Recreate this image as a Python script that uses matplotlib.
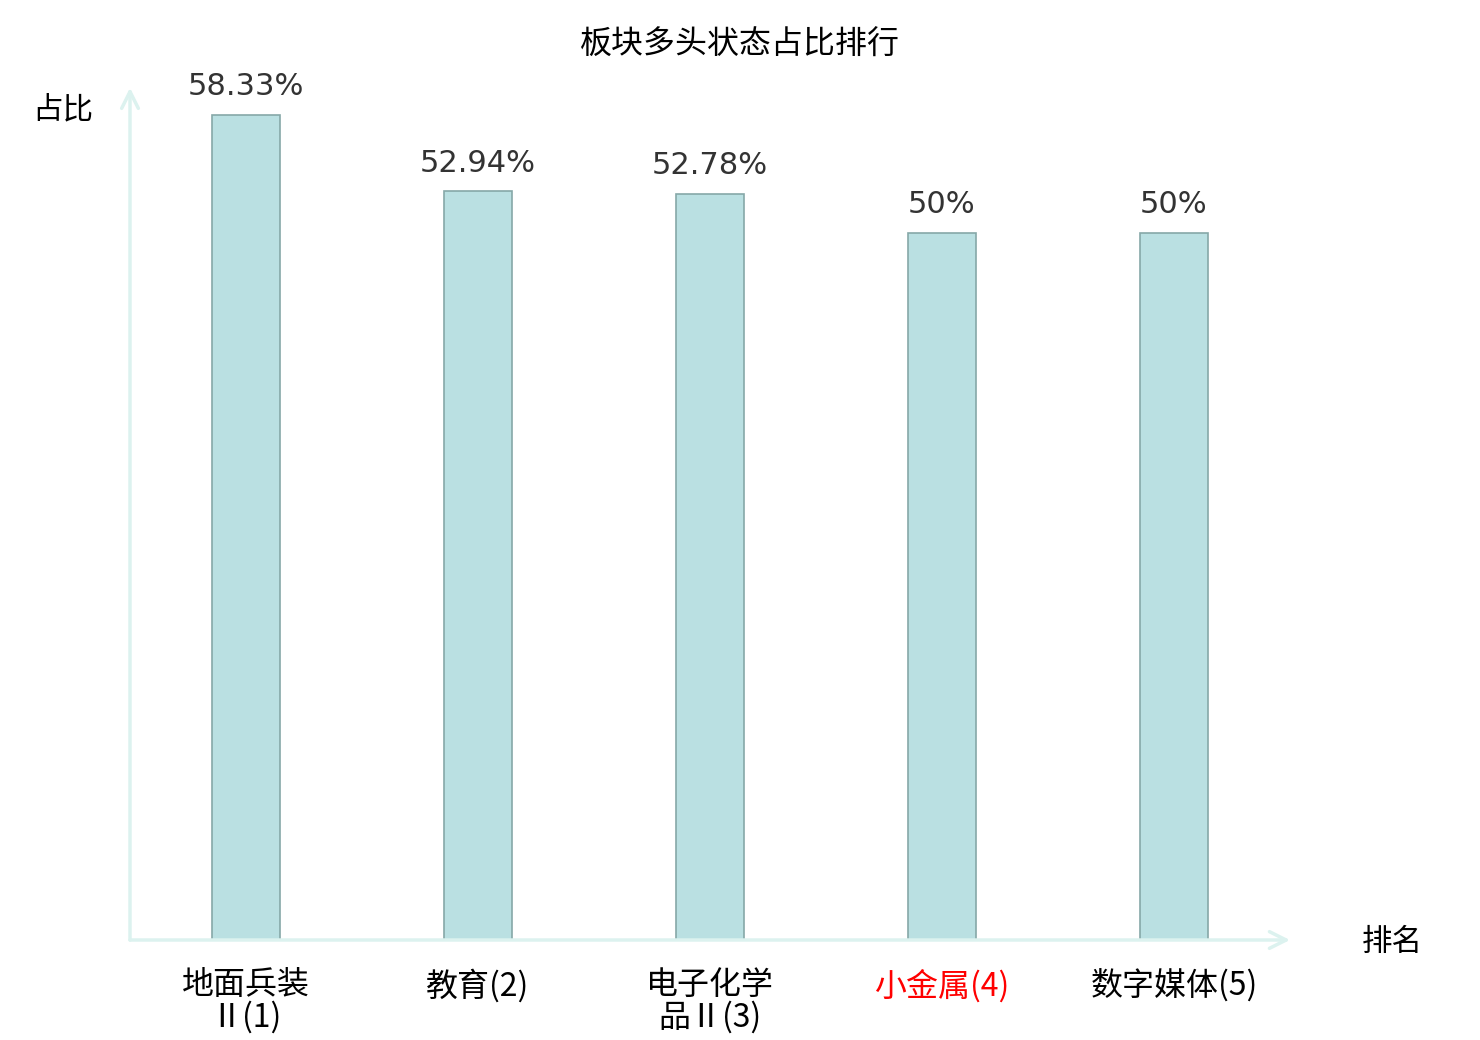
import matplotlib
matplotlib.use("Agg")
import matplotlib.pyplot as plt

plt.rcParams['font.family'] = ['Noto Sans CJK SC', 'DejaVu Sans']

# 数据
labels = ["地面兵装\nⅡ(1)", "教育(2)", "电子化学\n品Ⅱ(3)", "小金属(4)", "数字媒体(5)"]
values = [58.33, 52.94, 52.78, 50, 50]
value_texts = ["58.33%", "52.94%", "52.78%", "50%", "50%"]
highlight = 3

W, H = 1480, 1040
fig = plt.figure(figsize=(W / 100, H / 100), dpi=100)

# 坐标区: x 130..1290 px, y 940..~92 px
x0, x1, y0 = 130, 1290, 940
ymax = 60
ppu = 14.14
ytop = y0 - ymax * ppu
ax = fig.add_axes([x0 / W, 1 - y0 / H, (x1 - x0) / W, (y0 - ytop) / H])

xs = list(range(len(values)))
ax.bar(xs, values, width=0.293, color="#bae0e2", edgecolor="#86a8a8", linewidth=1.2, zorder=2)
for x, v, t in zip(xs, values, value_texts):
    ax.annotate(t, (x, v), xytext=(0, 10), textcoords="offset points",
                ha="center", va="bottom", fontsize=22, color="#333333",
                family="DejaVu Sans")

ax.set_xlim(-0.5, len(values) - 0.5)
ax.set_ylim(0, ymax)
for s in ax.spines.values():
    s.set_visible(False)
ax.set_yticks([])
ax.set_xticks(xs)
ax.set_xticklabels(labels, fontsize=23, linespacing=1.0, va="top")
ax.tick_params(axis="x", length=0, pad=21)
for i, tl in enumerate(ax.get_xticklabels()):
    tl.set_color("red" if i == highlight else "black")

# 坐标轴箭头
axis_col = "#dcf2ef"
ax.annotate("", xy=(1.0, 0), xytext=(0, 0), xycoords="axes fraction",
            arrowprops=dict(arrowstyle="->", color=axis_col, lw=2.5,
                            mutation_scale=30, shrinkA=0, shrinkB=0),
            annotation_clip=False)
ax.annotate("", xy=(0, 1.0045), xytext=(0, 0), xycoords="axes fraction",
            arrowprops=dict(arrowstyle="->", color=axis_col, lw=2.5,
                            mutation_scale=30, shrinkA=0, shrinkB=0),
            annotation_clip=False)

fig.text(63 / W, 1 - 110 / H, "占比", ha="center", va="center", fontsize=22)
fig.text(1392 / W, 1 - 942 / H, "排名", ha="center", va="center", fontsize=22)
fig.text(740 / W, 1 - 45 / H, "板块多头状态占比排行", ha="center", va="center", fontsize=23)

fig.savefig("out.png", dpi=100, facecolor="white")
